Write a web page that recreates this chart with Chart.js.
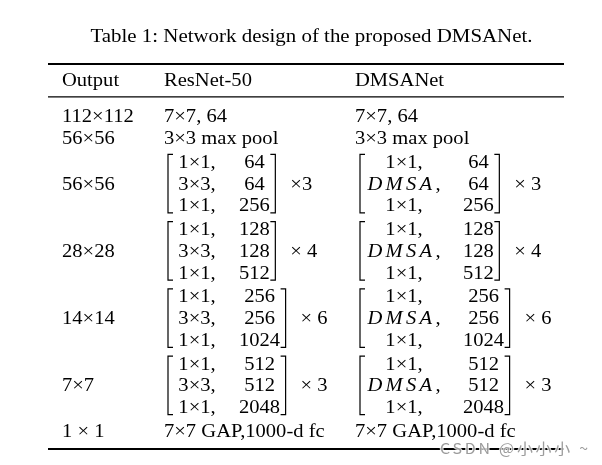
<!DOCTYPE html>
<html>
<head>
<meta charset="utf-8">
<script src="https://cdn.jsdelivr.net/npm/chart.js@4.4.1/dist/chart.umd.min.js"></script>
<style>
  html, body { margin: 0; padding: 0; background: #fff; }
  #wrap { width: 602px; height: 465px; }
</style>
</head>
<body>
<div id="wrap"><canvas id="tableChart" width="602" height="465"></canvas></div>
<script>
// ============================================
// TABLE CONTENT
// ============================================
const caption = 'Table 1: Network design of the proposed DMSANet.';
const headers = ['Output', 'ResNet-50', 'DMSANet'];
const outputSizes = ['112×112', '56×56', '56×56', '28×28', '14×14', '7×7', '1 × 1'];
const stemRows = [['7×7, 64', '7×7, 64'], ['3×3 max pool', '3×3 max pool']];
const resnetKernels = ['1×1,', '3×3,', '1×1,'];
const dmsaKernels = ['1×1,', 'DMSA,', '1×1,'];
const stageChannels = [[64, 64, 256], [128, 128, 512], [256, 256, 1024], [512, 512, 2048]];
const resnetRepeats = ['×3', '× 4', '× 6', '× 3'];
const dmsaRepeats = ['× 3', '× 4', '× 6', '× 3'];
const headRow = ['7×7 GAP,1000-d fc', '7×7 GAP,1000-d fc'];
const watermark = 'CSDN @小小小 ~';

// ============================================
// LAYOUT (x in table px units, y in text-line units)
// ============================================
const SX = 1.1;                       // the scan is a little wider than tall
const BODY_FONT = '18.7px "Liberation Serif"';
const MATH_FONT = 'italic 18.7px "Liberation Serif"';
const CAPTION_FONT = '19px "Liberation Serif"';
const WM_FONT = '14.5px "Noto Sans CJK SC", "Noto Sans", sans-serif';
const BASE_SHIFT = 6.3;               // text centre -> alphabetic baseline, px

const COL = { caption: 311.5, output: 62, resnet: 164, dmsa: 355, watermark: 440 };
const MATRIX = {
  resnet: { bracket: 168, kernelCenter: 197, valueStart: 239 },
  dmsa: { bracket: 360, kernelCenter: 404, valueStart: 463 }
};
const RULE_SPAN = [48, 564];
const BLOCK_GAP = 1.1;
const Y = { caption: -3.69, topRule: -2.4, header: -1.66, midRule: -0.88, bottomRule: 15.35 };
const Y_RANGE = [-5.346, 16.083];
const BRACKET_PAD = [0.33, 0.36];
const SERIF = 5;

const measureCtx = document.createElement('canvas').getContext('2d');
function partWidth(p) {
  measureCtx.font = p.font || BODY_FONT;
  measureCtx.letterSpacing = p.spacing || '0px';
  return measureCtx.measureText(p.text).width * SX;
}
function cellWidth(cell) {
  return cell.parts.reduce((s, p) => s + partWidth(p), 0);
}
function kernelParts(text) {
  if (text === 'DMSA,') {
    return [{ text: 'DMSA', font: MATH_FONT, spacing: '3px' }, { text: ',' }];
  }
  return [{ text: text }];
}

// ============================================
// BUILD CELLS, RULES AND BRACKETS
// ============================================
const cells = [];
const lines = [];

cells.push({ x: COL.caption, y: Y.caption, align: 'center', parts: [{ text: caption, font: CAPTION_FONT }] });
[COL.output, COL.resnet, COL.dmsa].forEach((x, i) => {
  cells.push({ x: x, y: Y.header, parts: [{ text: headers[i] }] });
});

let rowY = 0;
stemRows.forEach((row, i) => {
  cells.push({ x: COL.output, y: rowY, parts: [{ text: outputSizes[i] }] });
  cells.push({ x: COL.resnet, y: rowY, parts: [{ text: row[0] }] });
  cells.push({ x: COL.dmsa, y: rowY, parts: [{ text: row[1] }] });
  rowY += 1;
});
rowY += BLOCK_GAP - 1;

function addMatrix(m, kernels, values, repeat, top) {
  const valueCells = values.map(v => ({ parts: [{ text: String(v) }] }));
  const valueW = Math.max(...valueCells.map(cellWidth));
  const rightBracket = m.valueStart + valueW + 5.5;
  kernels.forEach((k, r) => {
    cells.push({ x: m.kernelCenter, y: top + r, align: 'center', parts: kernelParts(k) });
    cells.push({ x: m.valueStart + valueW / 2, y: top + r, align: 'center', parts: valueCells[r].parts });
  });
  cells.push({ x: rightBracket + 15, y: top + 1, parts: [{ text: repeat }] });
  const y0 = top - BRACKET_PAD[0];
  const y1 = top + 2 + BRACKET_PAD[1];
  lines.push({ width: 1.2, pts: [[m.bracket + SERIF, y0], [m.bracket, y0], [m.bracket, y1], [m.bracket + SERIF, y1]] });
  lines.push({ width: 1.2, pts: [[rightBracket - SERIF, y0], [rightBracket, y0], [rightBracket, y1], [rightBracket - SERIF, y1]] });
}

stageChannels.forEach((values, s) => {
  const top = rowY;
  cells.push({ x: COL.output, y: top + 1, parts: [{ text: outputSizes[s + 2] }] });
  addMatrix(MATRIX.resnet, resnetKernels, values, resnetRepeats[s], top);
  addMatrix(MATRIX.dmsa, dmsaKernels, values, dmsaRepeats[s], top);
  rowY = top + 2 + BLOCK_GAP;
});

cells.push({ x: COL.output, y: rowY, parts: [{ text: outputSizes[6] }] });
cells.push({ x: COL.resnet, y: rowY, parts: [{ text: headRow[0] }] });
cells.push({ x: COL.dmsa, y: rowY, parts: [{ text: headRow[1] }] });

lines.push({ width: 2, pts: [[RULE_SPAN[0], Y.topRule], [RULE_SPAN[1], Y.topRule]] });
lines.push({ width: 1.2, pts: [[RULE_SPAN[0], Y.midRule], [RULE_SPAN[1], Y.midRule]] });
lines.push({ width: 2, pts: [[RULE_SPAN[0], Y.bottomRule], [RULE_SPAN[1], Y.bottomRule]] });

cells.push({
  x: COL.watermark, y: Y.bottomRule, color: '#9c9c9c', halo: true, shift: 5,
  parts: [{ text: watermark, font: WM_FONT, spacing: '2.5px' }]
});

// ============================================
// DRAW
// ============================================
function drawCell(ctx, px, py, cell) {
  let x = px;
  if (cell.align === 'center') x -= cellWidth(cell) / 2;
  const base = py + (cell.shift != null ? cell.shift : BASE_SHIFT);
  cell.parts.forEach(p => {
    const w = partWidth(p);
    ctx.save();
    ctx.translate(x, base);
    ctx.scale(SX, 1);
    ctx.font = p.font || BODY_FONT;
    ctx.letterSpacing = p.spacing || '0px';
    ctx.textBaseline = 'alphabetic';
    if (cell.halo) {
      ctx.strokeStyle = 'rgba(255,255,255,0.8)';
      ctx.lineWidth = 2;
      ctx.strokeText(p.text, 0, 0);
    }
    ctx.fillStyle = cell.color || '#000';
    ctx.fillText(p.text, 0, 0);
    ctx.restore();
    x += w;
  });
}

const cellTextPlugin = {
  id: 'cellText',
  afterDatasetsDraw(chart) {
    chart.data.datasets.forEach((ds, i) => {
      if (!ds.textLayer) return;
      const meta = chart.getDatasetMeta(i);
      meta.data.forEach((pt, j) => drawCell(chart.ctx, pt.x, pt.y, ds.data[j]));
    });
  }
};

const datasets = lines.map(l => ({
  data: l.pts.map(p => ({ x: p[0], y: p[1] })),
  showLine: true,
  borderColor: '#000',
  borderWidth: l.width,
  borderCapStyle: 'butt',
  borderJoinStyle: 'miter',
  pointRadius: 0,
  clip: false
}));
datasets.push({ data: cells, textLayer: true, pointRadius: 0, showLine: false });

new Chart(document.getElementById('tableChart'), {
  type: 'scatter',
  data: { datasets: datasets },
  options: {
    responsive: false,
    animation: false,
    events: [],
    layout: { padding: 0 },
    plugins: { legend: { display: false }, tooltip: { enabled: false }, title: { display: false } },
    scales: {
      x: { type: 'linear', min: 0, max: 602, display: false },
      y: { type: 'linear', min: Y_RANGE[0], max: Y_RANGE[1], reverse: true, display: false }
    }
  },
  plugins: [cellTextPlugin]
});
</script>
</body>
</html>
